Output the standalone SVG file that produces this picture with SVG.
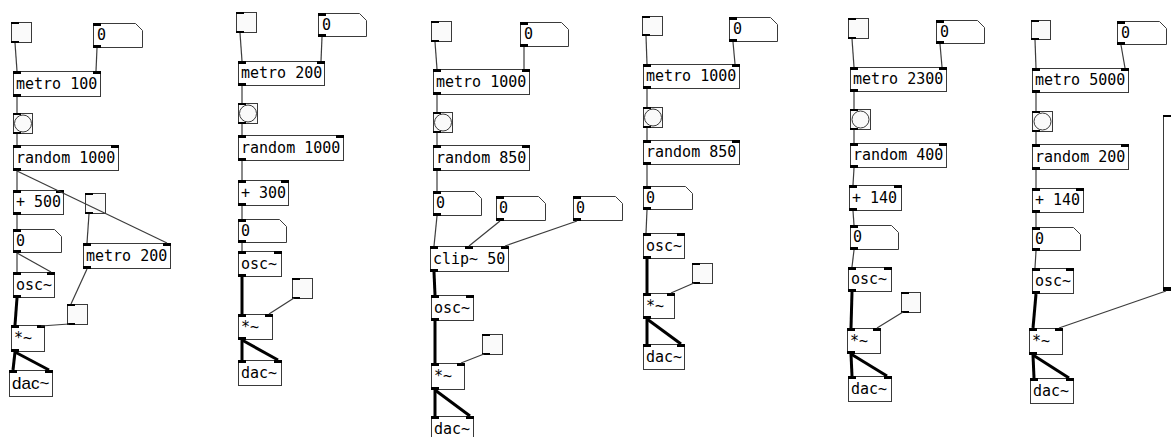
<svg xmlns="http://www.w3.org/2000/svg" width="1171" height="437" viewBox="0 0 1171 437">
<style>
.b{fill:#fff;stroke:#3a3a3a;stroke-width:1}
.g{fill:#fafafa;stroke:#3a3a3a;stroke-width:1}
.p{fill:#000}
.t{font-family:"DejaVu Sans Mono",monospace;font-size:15px;fill:#000}
.ts{font-family:"Liberation Sans",Arial,sans-serif;font-size:17px;fill:#000}
.c{stroke:#3c3c3c;stroke-width:1.2;fill:none}
.s{stroke:#000;stroke-width:3;fill:none}
</style>
<rect width="1171" height="437" fill="#fff"/>
<g id="nodes">
<!-- column 1 -->
<g id="tgl1a"><rect class="g" x="11.5" y="22.5" width="20" height="20"/><rect class="p" x="11" y="22" width="8" height="2"/><rect class="p" x="11" y="41" width="8" height="2"/></g>
<g id="num1a"><path class="b" d="M93.5,23.5H135.5L142.5,30.5V47.5H93.5Z"/><rect class="p" x="93" y="23" width="8" height="3"/><rect class="p" x="93" y="45" width="8" height="3"/><text class="t" x="97" y="40">0</text></g>
<g id="metro1"><rect class="b" x="13.5" y="71.5" width="87" height="25"/><rect class="p" x="13" y="71" width="8" height="3"/><rect class="p" x="93" y="71" width="8" height="3"/><rect class="p" x="13" y="94" width="8" height="3"/><text class="t" x="16" y="89">metro 100</text></g>
<g id="bng1"><rect class="g" x="13.5" y="113.5" width="19" height="20"/><circle cx="23" cy="123.5" r="8.5" fill="#fafafa" stroke="#3a3a3a"/><rect class="p" x="13" y="113" width="8" height="2"/><rect class="p" x="13" y="132" width="8" height="2"/></g>
<g id="random1"><rect class="b" x="13.5" y="145.5" width="105" height="25"/><rect class="p" x="13" y="145" width="8" height="3"/><rect class="p" x="111" y="145" width="8" height="3"/><rect class="p" x="13" y="168" width="8" height="3"/><text class="t" x="16" y="163">random 1000</text></g>
<g id="plus1"><rect class="b" x="13.5" y="190.5" width="50" height="24"/><rect class="p" x="13" y="190" width="8" height="3"/><rect class="p" x="56" y="190" width="8" height="3"/><rect class="p" x="13" y="212" width="8" height="3"/><text class="t" x="16" y="207">+ 500</text></g>
<g id="tgl1b"><rect class="g" x="85.5" y="193.5" width="20" height="20"/><rect class="p" x="85" y="193" width="8" height="2"/><rect class="p" x="85" y="212" width="8" height="2"/></g>
<g id="num1b"><path class="b" d="M13.5,229.5H54.5L61.5,236.5V252.5H13.5Z"/><rect class="p" x="13" y="229" width="8" height="3"/><rect class="p" x="13" y="250" width="8" height="3"/><text class="t" x="16" y="246">0</text></g>
<g id="metro1b"><rect class="b" x="83.5" y="243.5" width="87" height="25"/><rect class="p" x="83" y="243" width="8" height="3"/><rect class="p" x="163" y="243" width="8" height="3"/><rect class="p" x="83" y="266" width="8" height="3"/><text class="t" x="86" y="261">metro 200</text></g>
<g id="osc1"><rect class="b" x="13.5" y="272.5" width="41" height="25"/><rect class="p" x="13" y="272" width="8" height="3"/><rect class="p" x="47" y="272" width="8" height="3"/><rect class="p" x="13" y="295" width="8" height="3"/><text class="t" x="16" y="290">osc~</text></g>
<g id="tgl1c"><rect class="g" x="67.5" y="304.5" width="20" height="20"/><rect class="p" x="67" y="304" width="8" height="2"/><rect class="p" x="67" y="323" width="8" height="2"/></g>
<g id="mul1"><rect class="b" x="11.5" y="325.5" width="33" height="26"/><rect class="p" x="11" y="325" width="8" height="3"/><rect class="p" x="37" y="325" width="8" height="3"/><rect class="p" x="11" y="349" width="8" height="3"/><text class="t" x="14" y="343">*~</text></g>
<g id="dac1"><rect class="b" x="9.5" y="370.5" width="43" height="26"/><rect class="p" x="9" y="370" width="8" height="3"/><rect class="p" x="45" y="370" width="8" height="3"/><text class="ts" x="12" y="389">dac~</text></g>
<!-- column 2 -->
<g id="tgl2a"><rect class="g" x="236.5" y="12.5" width="20" height="20"/><rect class="p" x="236" y="12" width="8" height="2"/><rect class="p" x="236" y="31" width="8" height="2"/></g>
<g id="num2a"><path class="b" d="M318.5,13.5H359.5L366.5,20.5V36.5H318.5Z"/><rect class="p" x="318" y="13" width="8" height="3"/><rect class="p" x="318" y="34" width="8" height="3"/><text class="t" x="322" y="30">0</text></g>
<g id="metro2"><rect class="b" x="238.5" y="61.5" width="86" height="24"/><rect class="p" x="238" y="61" width="8" height="3"/><rect class="p" x="317" y="61" width="8" height="3"/><rect class="p" x="238" y="83" width="8" height="3"/><text class="t" x="241" y="78">metro 200</text></g>
<g id="bng2"><rect class="g" x="238.5" y="103.5" width="19" height="20"/><circle cx="248" cy="113.5" r="8.5" fill="#fafafa" stroke="#3a3a3a"/><rect class="p" x="238" y="103" width="8" height="2"/><rect class="p" x="238" y="122" width="8" height="2"/></g>
<g id="random2"><rect class="b" x="238.5" y="135.5" width="105" height="25"/><rect class="p" x="238" y="135" width="8" height="3"/><rect class="p" x="336" y="135" width="8" height="3"/><rect class="p" x="238" y="158" width="8" height="3"/><text class="t" x="241" y="153">random 1000</text></g>
<g id="plus2"><rect class="b" x="238.5" y="180.5" width="50" height="25"/><rect class="p" x="238" y="180" width="8" height="3"/><rect class="p" x="281" y="180" width="8" height="3"/><rect class="p" x="238" y="203" width="8" height="3"/><text class="t" x="241" y="198">+ 300</text></g>
<g id="num2b"><path class="b" d="M238.5,219.5H279.5L286.5,226.5V242.5H238.5Z"/><rect class="p" x="238" y="219" width="8" height="3"/><rect class="p" x="238" y="240" width="8" height="3"/><text class="t" x="241" y="236">0</text></g>
<g id="osc2"><rect class="b" x="238.5" y="251.5" width="43" height="25"/><rect class="p" x="238" y="251" width="8" height="3"/><rect class="p" x="274" y="251" width="8" height="3"/><rect class="p" x="238" y="274" width="8" height="3"/><text class="t" x="241" y="269">osc~</text></g>
<g id="tgl2b"><rect class="g" x="292.5" y="278.5" width="20" height="20"/><rect class="p" x="292" y="278" width="8" height="2"/><rect class="p" x="292" y="297" width="8" height="2"/></g>
<g id="mul2"><rect class="b" x="238.5" y="314.5" width="34" height="25"/><rect class="p" x="238" y="314" width="8" height="3"/><rect class="p" x="265" y="314" width="8" height="3"/><rect class="p" x="238" y="337" width="8" height="3"/><text class="t" x="241" y="332">*~</text></g>
<g id="dac2"><rect class="b" x="238.5" y="360.5" width="43" height="25"/><rect class="p" x="238" y="360" width="8" height="3"/><rect class="p" x="274" y="360" width="8" height="3"/><text class="t" x="241" y="378">dac~</text></g>
<!-- column 3 -->
<g id="tgl3a"><rect class="g" x="431.5" y="21.5" width="20" height="20"/><rect class="p" x="431" y="21" width="8" height="2"/><rect class="p" x="431" y="40" width="8" height="2"/></g>
<g id="num3a"><path class="b" d="M520.5,22.5H561.5L568.5,29.5V46.5H520.5Z"/><rect class="p" x="520" y="22" width="8" height="3"/><rect class="p" x="520" y="44" width="8" height="3"/><text class="t" x="524" y="39">0</text></g>
<g id="metro3"><rect class="b" x="433.5" y="69.5" width="96" height="25"/><rect class="p" x="433" y="69" width="8" height="3"/><rect class="p" x="522" y="69" width="8" height="3"/><rect class="p" x="433" y="92" width="8" height="3"/><text class="t" x="436" y="87">metro 1000</text></g>
<g id="bng3"><rect class="g" x="433.5" y="112.5" width="19" height="20"/><circle cx="443" cy="122.5" r="8.5" fill="#fafafa" stroke="#3a3a3a"/><rect class="p" x="433" y="112" width="8" height="2"/><rect class="p" x="433" y="131" width="8" height="2"/></g>
<g id="random3"><rect class="b" x="433.5" y="145.5" width="96" height="25"/><rect class="p" x="433" y="145" width="8" height="3"/><rect class="p" x="522" y="145" width="8" height="3"/><rect class="p" x="433" y="168" width="8" height="3"/><text class="t" x="436" y="163">random 850</text></g>
<g id="num3b"><path class="b" d="M433.5,191.5H474.5L481.5,198.5V215.5H433.5Z"/><rect class="p" x="433" y="191" width="8" height="3"/><rect class="p" x="433" y="213" width="8" height="3"/><text class="t" x="436" y="208">0</text></g>
<g id="num3c"><path class="b" d="M496.5,196.5H538.5L545.5,203.5V220.5H496.5Z"/><rect class="p" x="496" y="196" width="8" height="3"/><rect class="p" x="496" y="218" width="8" height="3"/><text class="t" x="499" y="213">0</text></g>
<g id="num3d"><path class="b" d="M573.5,196.5H615.5L622.5,203.5V220.5H573.5Z"/><rect class="p" x="573" y="196" width="8" height="3"/><rect class="p" x="573" y="218" width="8" height="3"/><text class="t" x="576" y="213">0</text></g>
<g id="clip3"><rect class="b" x="430.5" y="246.5" width="78" height="25"/><rect class="p" x="430" y="246" width="8" height="3"/><rect class="p" x="465" y="246" width="8" height="3"/><rect class="p" x="501" y="246" width="8" height="3"/><rect class="p" x="430" y="269" width="8" height="3"/><text class="t" x="433" y="264">clip~ 50</text></g>
<g id="osc3"><rect class="b" x="431.5" y="295.5" width="42" height="25"/><rect class="p" x="431" y="295" width="8" height="3"/><rect class="p" x="466" y="295" width="8" height="3"/><rect class="p" x="431" y="318" width="8" height="3"/><text class="t" x="434" y="313">osc~</text></g>
<g id="tgl3b"><rect class="g" x="482.5" y="334.5" width="20" height="20"/><rect class="p" x="482" y="334" width="8" height="2"/><rect class="p" x="482" y="353" width="8" height="2"/></g>
<g id="mul3"><rect class="b" x="431.5" y="363.5" width="33" height="26"/><rect class="p" x="431" y="363" width="8" height="3"/><rect class="p" x="457" y="363" width="8" height="3"/><rect class="p" x="431" y="387" width="8" height="3"/><text class="t" x="434" y="381">*~</text></g>
<g id="dac3"><rect class="b" x="431.5" y="416.5" width="42" height="26"/><rect class="p" x="431" y="416" width="8" height="3"/><rect class="p" x="466" y="416" width="8" height="3"/><text class="t" x="434" y="434">dac~</text></g>
<!-- column 4 -->
<g id="tgl4a"><rect class="g" x="642.5" y="16.5" width="20" height="19"/><rect class="p" x="642" y="16" width="8" height="2"/><rect class="p" x="642" y="34" width="8" height="2"/></g>
<g id="num4a"><path class="b" d="M729.5,17.5H770.5L777.5,24.5V41.5H729.5Z"/><rect class="p" x="729" y="17" width="8" height="3"/><rect class="p" x="729" y="39" width="8" height="3"/><text class="t" x="733" y="34">0</text></g>
<g id="metro4"><rect class="b" x="643.5" y="64.5" width="96" height="24"/><rect class="p" x="643" y="64" width="8" height="3"/><rect class="p" x="732" y="64" width="8" height="3"/><rect class="p" x="643" y="86" width="8" height="3"/><text class="t" x="646" y="81">metro 1000</text></g>
<g id="bng4"><rect class="g" x="643.5" y="107.5" width="19" height="20"/><circle cx="653" cy="117.5" r="8.5" fill="#fafafa" stroke="#3a3a3a"/><rect class="p" x="643" y="107" width="8" height="2"/><rect class="p" x="643" y="126" width="8" height="2"/></g>
<g id="random4"><rect class="b" x="643.5" y="140.5" width="96" height="24"/><rect class="p" x="643" y="140" width="8" height="3"/><rect class="p" x="732" y="140" width="8" height="3"/><rect class="p" x="643" y="162" width="8" height="3"/><text class="t" x="646" y="157">random 850</text></g>
<g id="num4b"><path class="b" d="M643.5,186.5H685.5L692.5,193.5V209.5H643.5Z"/><rect class="p" x="643" y="186" width="8" height="3"/><rect class="p" x="643" y="207" width="8" height="3"/><text class="t" x="646" y="203">0</text></g>
<g id="osc4"><rect class="b" x="643.5" y="233.5" width="41" height="25"/><rect class="p" x="643" y="233" width="8" height="3"/><rect class="p" x="677" y="233" width="8" height="3"/><rect class="p" x="643" y="256" width="8" height="3"/><text class="t" x="646" y="251">osc~</text></g>
<g id="tgl4b"><rect class="g" x="692.5" y="263.5" width="20" height="20"/><rect class="p" x="692" y="263" width="8" height="2"/><rect class="p" x="692" y="282" width="8" height="2"/></g>
<g id="mul4"><rect class="b" x="643.5" y="293.5" width="31" height="25"/><rect class="p" x="643" y="293" width="8" height="3"/><rect class="p" x="667" y="293" width="8" height="3"/><rect class="p" x="643" y="316" width="8" height="3"/><text class="t" x="646" y="311">*~</text></g>
<g id="dac4"><rect class="b" x="643.5" y="344.5" width="41" height="25"/><rect class="p" x="643" y="344" width="8" height="3"/><rect class="p" x="677" y="344" width="8" height="3"/><text class="t" x="646" y="362">dac~</text></g>
<!-- column 5 -->
<g id="tgl5a"><rect class="g" x="848.5" y="18.5" width="20" height="20"/><rect class="p" x="848" y="18" width="8" height="2"/><rect class="p" x="848" y="37" width="8" height="2"/></g>
<g id="num5a"><path class="b" d="M936.5,20.5H977.5L984.5,27.5V43.5H936.5Z"/><rect class="p" x="936" y="20" width="8" height="3"/><rect class="p" x="936" y="41" width="8" height="3"/><text class="t" x="940" y="37">0</text></g>
<g id="metro5"><rect class="b" x="850.5" y="67.5" width="96" height="24"/><rect class="p" x="850" y="67" width="8" height="3"/><rect class="p" x="939" y="67" width="8" height="3"/><rect class="p" x="850" y="89" width="8" height="3"/><text class="t" x="853" y="84">metro 2300</text></g>
<g id="bng5"><rect class="g" x="850.5" y="109.5" width="20" height="20"/><circle cx="860.5" cy="119.5" r="8.5" fill="#fafafa" stroke="#3a3a3a"/><rect class="p" x="850" y="109" width="8" height="2"/><rect class="p" x="850" y="128" width="8" height="2"/></g>
<g id="random5"><rect class="b" x="850.5" y="143.5" width="96" height="24"/><rect class="p" x="850" y="143" width="8" height="3"/><rect class="p" x="939" y="143" width="8" height="3"/><rect class="p" x="850" y="165" width="8" height="3"/><text class="t" x="853" y="160">random 400</text></g>
<g id="plus5"><rect class="b" x="849.5" y="185.5" width="52" height="25"/><rect class="p" x="849" y="185" width="8" height="3"/><rect class="p" x="894" y="185" width="8" height="3"/><rect class="p" x="849" y="208" width="8" height="3"/><text class="t" x="852" y="203">+ 140</text></g>
<g id="num5b"><path class="b" d="M850.5,225.5H891.5L898.5,232.5V249.5H850.5Z"/><rect class="p" x="850" y="225" width="8" height="3"/><rect class="p" x="850" y="247" width="8" height="3"/><text class="t" x="853" y="242">0</text></g>
<g id="osc5"><rect class="b" x="848.5" y="267.5" width="43" height="24"/><rect class="p" x="848" y="267" width="8" height="3"/><rect class="p" x="884" y="267" width="8" height="3"/><rect class="p" x="848" y="289" width="8" height="3"/><text class="t" x="851" y="284">osc~</text></g>
<g id="tgl5b"><rect class="g" x="901.5" y="292.5" width="19" height="20"/><rect class="p" x="901" y="292" width="8" height="2"/><rect class="p" x="901" y="311" width="8" height="2"/></g>
<g id="mul5"><rect class="b" x="847.5" y="328.5" width="33" height="25"/><rect class="p" x="847" y="328" width="8" height="3"/><rect class="p" x="873" y="328" width="8" height="3"/><rect class="p" x="847" y="351" width="8" height="3"/><text class="t" x="850" y="346">*~</text></g>
<g id="dac5"><rect class="b" x="848.5" y="376.5" width="43" height="25"/><rect class="p" x="848" y="376" width="8" height="3"/><rect class="p" x="884" y="376" width="8" height="3"/><text class="t" x="851" y="394">dac~</text></g>
<!-- column 6 -->
<g id="tgl6a"><rect class="g" x="1031.5" y="20.5" width="19" height="19"/><rect class="p" x="1031" y="20" width="8" height="2"/><rect class="p" x="1031" y="38" width="8" height="2"/></g>
<g id="num6a"><path class="b" d="M1117.5,21.5H1159.5L1166.5,28.5V44.5H1117.5Z"/><rect class="p" x="1117" y="21" width="8" height="3"/><rect class="p" x="1117" y="42" width="8" height="3"/><text class="t" x="1121" y="38">0</text></g>
<g id="metro6"><rect class="b" x="1032.5" y="68.5" width="96" height="24"/><rect class="p" x="1032" y="68" width="8" height="3"/><rect class="p" x="1121" y="68" width="8" height="3"/><rect class="p" x="1032" y="90" width="8" height="3"/><text class="t" x="1035" y="85">metro 5000</text></g>
<g id="bng6"><rect class="g" x="1032.5" y="111.5" width="20" height="20"/><circle cx="1042.5" cy="121.5" r="8.5" fill="#fafafa" stroke="#3a3a3a"/><rect class="p" x="1032" y="111" width="8" height="2"/><rect class="p" x="1032" y="130" width="8" height="2"/></g>
<g id="random6"><rect class="b" x="1032.5" y="144.5" width="96" height="25"/><rect class="p" x="1032" y="144" width="8" height="3"/><rect class="p" x="1121" y="144" width="8" height="3"/><rect class="p" x="1032" y="167" width="8" height="3"/><text class="t" x="1035" y="162">random 200</text></g>
<g id="plus6"><rect class="b" x="1032.5" y="188.5" width="51" height="24"/><rect class="p" x="1032" y="188" width="8" height="3"/><rect class="p" x="1076" y="188" width="8" height="3"/><rect class="p" x="1032" y="210" width="8" height="3"/><text class="t" x="1035" y="205">+ 140</text></g>
<g id="num6b"><path class="b" d="M1032.5,227.5H1073.5L1080.5,234.5V250.5H1032.5Z"/><rect class="p" x="1032" y="227" width="8" height="3"/><rect class="p" x="1032" y="248" width="8" height="3"/><text class="t" x="1035" y="244">0</text></g>
<g id="osc6"><rect class="b" x="1032.5" y="268.5" width="41" height="25"/><rect class="p" x="1032" y="268" width="8" height="3"/><rect class="p" x="1066" y="268" width="8" height="3"/><rect class="p" x="1032" y="291" width="8" height="3"/><text class="t" x="1035" y="286">osc~</text></g>
<g id="vsl6"><rect class="b" x="1163.5" y="115.5" width="20" height="175"/><rect class="p" x="1163" y="115" width="8" height="2"/><rect class="p" x="1163" y="287" width="8" height="4"/></g>
<g id="mul6"><rect class="b" x="1029.5" y="328.5" width="33" height="26"/><rect class="p" x="1029" y="328" width="8" height="3"/><rect class="p" x="1055" y="328" width="8" height="3"/><rect class="p" x="1029" y="352" width="8" height="3"/><text class="t" x="1032" y="346">*~</text></g>
<g id="dac6"><rect class="b" x="1030.5" y="378.5" width="43" height="25"/><rect class="p" x="1030" y="378" width="8" height="3"/><rect class="p" x="1066" y="378" width="8" height="3"/><text class="t" x="1033" y="396">dac~</text></g>
</g>
<g id="connectors">
<!-- column 1 -->
<path class="c" d="M15,43L17,71"/>
<path class="c" d="M97,48L96,71"/>
<path class="c" d="M17,97V113"/>
<path class="c" d="M17,134V145"/>
<path class="c" d="M17,171V190"/>
<path class="c" d="M17,171L167,243"/>
<path class="c" d="M17,215V229"/>
<path class="c" d="M89,214L87,243"/>
<path class="c" d="M17,253V272"/>
<path class="c" d="M17,253L51,272"/>
<path class="c" d="M87,269L71,304"/>
<path class="s" d="M17,298L15,325"/>
<path class="c" d="M69,324L41,326"/>
<path class="s" d="M15,352L13,370"/>
<path class="s" d="M15,352L49,370"/>
<!-- column 2 -->
<path class="c" d="M240,33L242,61"/>
<path class="c" d="M322,37L321,61"/>
<path class="c" d="M242,86V103"/>
<path class="c" d="M242,124V135"/>
<path class="c" d="M242,161V180"/>
<path class="c" d="M242,206V219"/>
<path class="c" d="M242,243V251"/>
<path class="s" d="M242,277V314"/>
<path class="c" d="M294,298L269,314"/>
<path class="s" d="M242,340V360"/>
<path class="s" d="M242,340L278,360"/>
<!-- column 3 -->
<path class="c" d="M435,42L437,69"/>
<path class="c" d="M524,47V69"/>
<path class="c" d="M437,95V112"/>
<path class="c" d="M437,133V145"/>
<path class="c" d="M437,171V191"/>
<path class="c" d="M437,216L434,246"/>
<path class="c" d="M500,221L469,246"/>
<path class="c" d="M577,221L505,246"/>
<path class="s" d="M434,272L435,295"/>
<path class="s" d="M435,321V363"/>
<path class="c" d="M484,354L461,363"/>
<path class="s" d="M435,390V416"/>
<path class="s" d="M435,390L470,416"/>
<!-- column 4 -->
<path class="c" d="M646,36L647,64"/>
<path class="c" d="M733,42L735,64"/>
<path class="c" d="M647,89V107"/>
<path class="c" d="M647,128V140"/>
<path class="c" d="M647,165V186"/>
<path class="c" d="M647,210L646,233"/>
<path class="s" d="M647,259V293"/>
<path class="c" d="M694,283L671,293"/>
<path class="s" d="M647,319V344"/>
<path class="s" d="M647,319L681,344"/>
<!-- column 5 -->
<path class="c" d="M852,39L854,67"/>
<path class="c" d="M940,44L942,67"/>
<path class="c" d="M854,92V109"/>
<path class="c" d="M854,130V143"/>
<path class="c" d="M854,168L853,185"/>
<path class="c" d="M853,211L854,225"/>
<path class="c" d="M854,250L852,267"/>
<path class="s" d="M852,292L851,328"/>
<path class="c" d="M903,312L877,328"/>
<path class="s" d="M851,354L852,376"/>
<path class="s" d="M851,354L887,376"/>
<!-- column 6 -->
<path class="c" d="M1035,40L1036,68"/>
<path class="c" d="M1121,45L1125,68"/>
<path class="c" d="M1036,93V111"/>
<path class="c" d="M1036,132V144"/>
<path class="c" d="M1036,170V188"/>
<path class="c" d="M1036,213V227"/>
<path class="c" d="M1036,251L1035,268"/>
<path class="s" d="M1036,294L1033,328"/>
<path class="c" d="M1166,291L1059,328"/>
<path class="s" d="M1033,355L1034,378"/>
<path class="s" d="M1033,355L1069,378"/>
</g>
</svg>
